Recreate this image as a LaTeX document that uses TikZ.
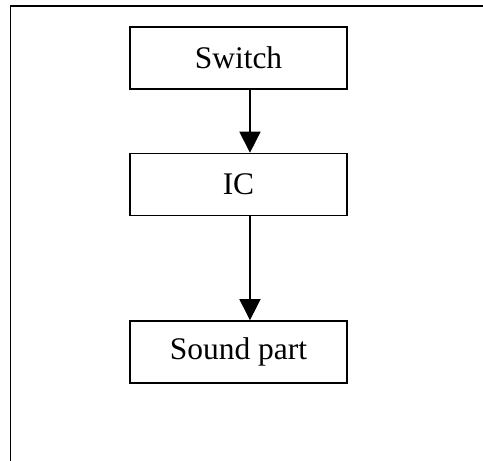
\documentclass[tikz,border=0pt]{standalone}
\usepackage{fontspec}
\setmainfont{Liberation Serif}
\usetikzlibrary{positioning, arrows.meta}

\tikzset{
	block/.style={draw, line width=1.1pt, minimum width=162.75pt, minimum height=46.5pt,
		inner sep=0pt, font=\fontsize{23.6}{28}\selectfont},
	flow/.style={line width=1.1pt, -{Triangle[width=15.75pt, length=15.75pt]}}
}

\begin{document}
\begin{tikzpicture}[x=0.75pt, y=-0.75pt]
				\useasboundingbox (0,0) rectangle (483,461);
				\draw[line width=1.1pt] (10.5,470) -- (10.5,6) -- (495,6);
				\node[block] (sw) at (238.5,58) {Switch};
				\node[block, below=47.25pt of sw] (ic) {IC};
				\node[block, below=78pt of ic] (snd) {Sound part};
				\draw[flow] ([xshift=8.6pt]sw.south) -- ([xshift=8.6pt]ic.north);
				\draw[flow] ([xshift=8.6pt]ic.south) -- ([xshift=8.6pt]snd.north);
			\end{tikzpicture}
\end{document}
